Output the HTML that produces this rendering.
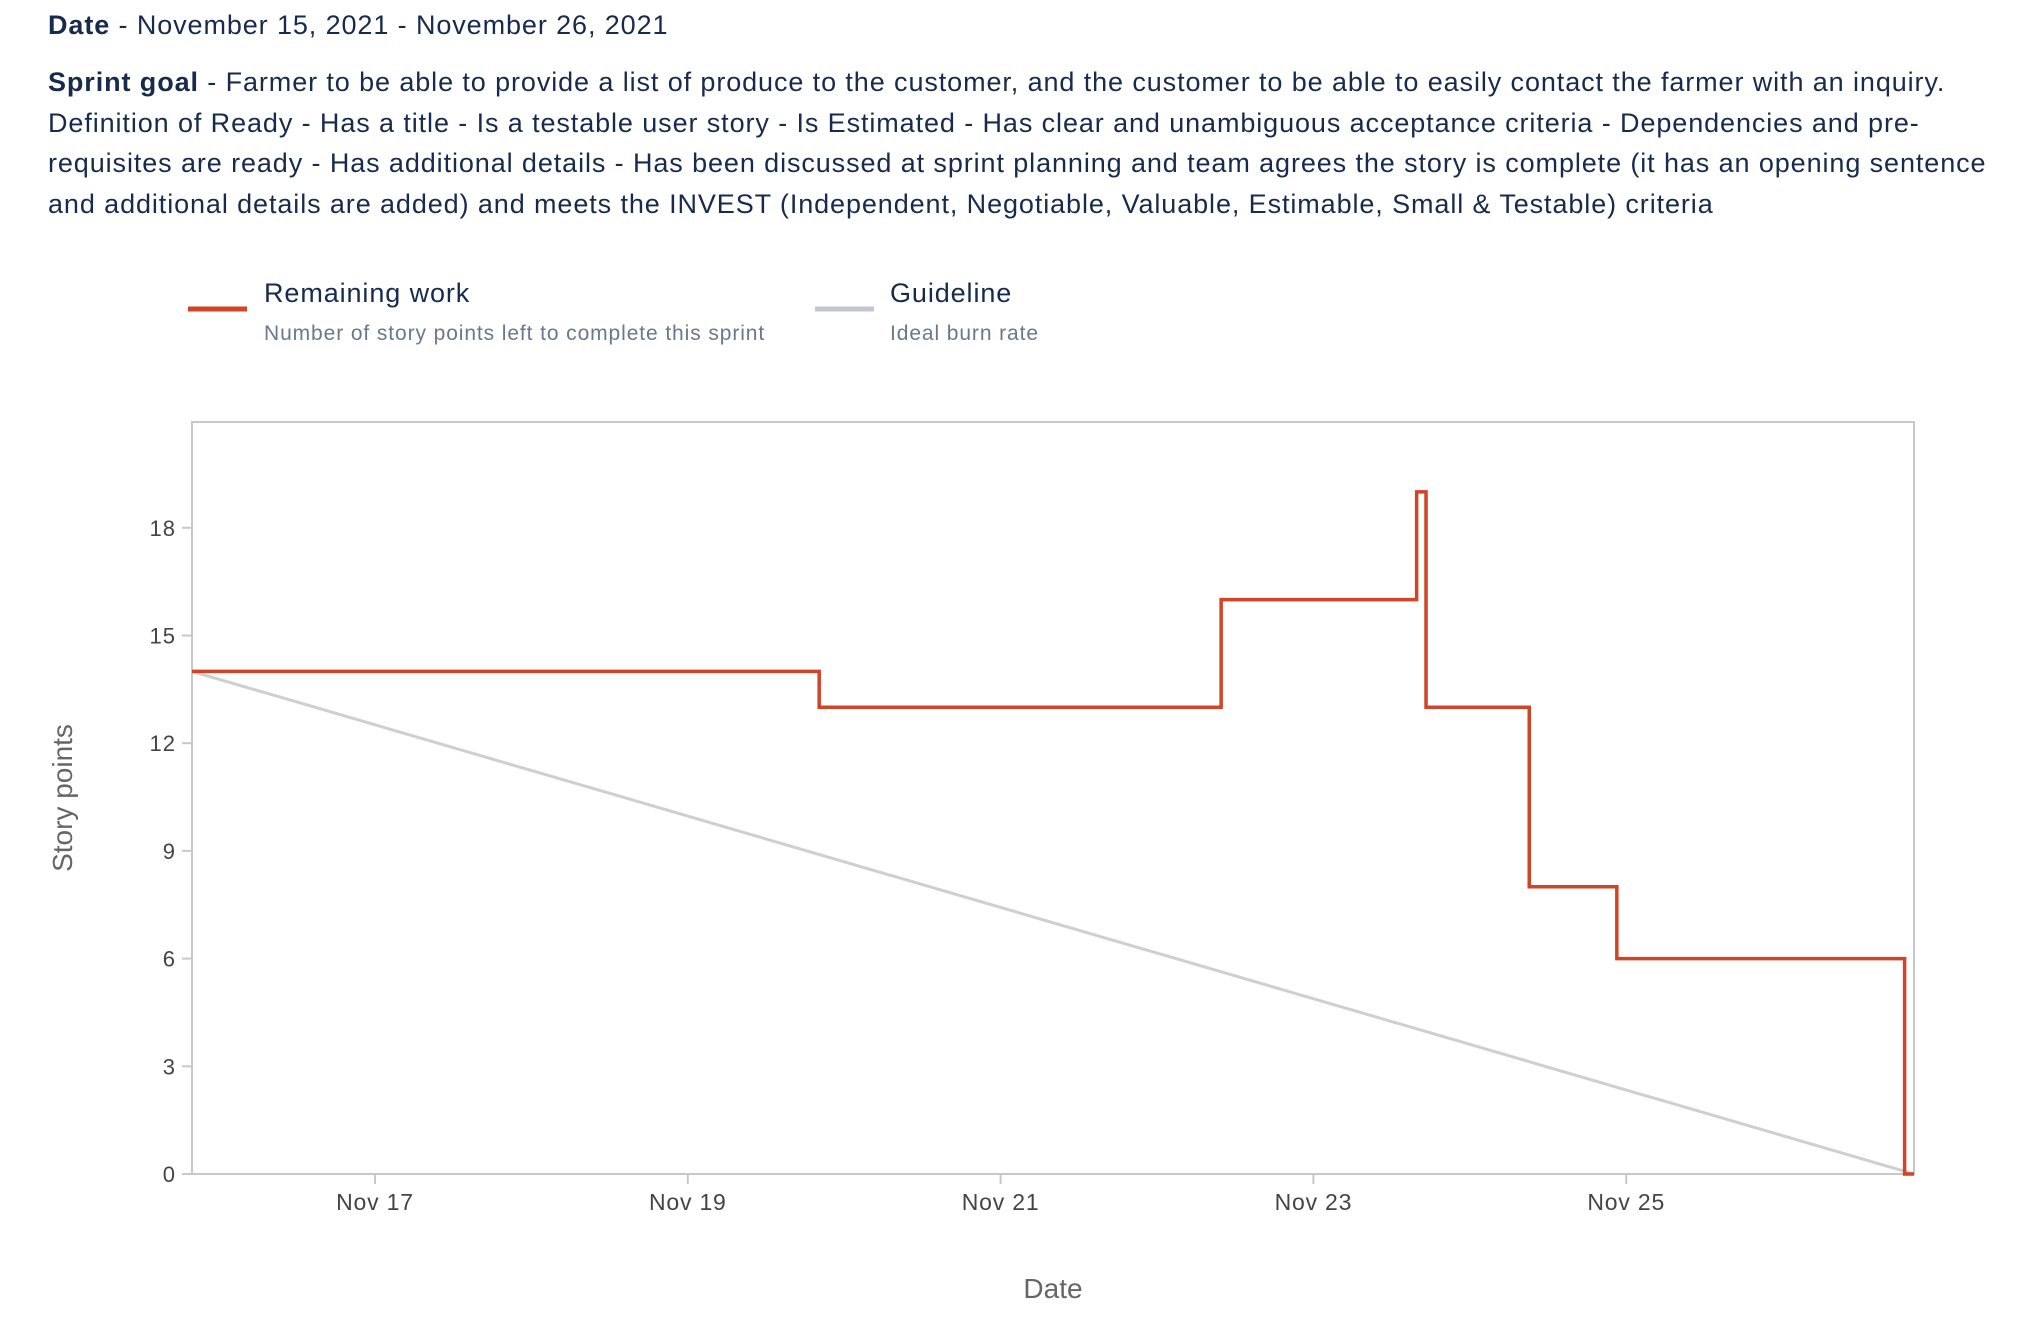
<!DOCTYPE html>
<html><head><meta charset="utf-8"><style>
body{margin:0;width:2034px;height:1324px;background:#fff;font-family:"Liberation Sans",sans-serif;color:#172b4d;position:relative;overflow:hidden}
.t{position:absolute;left:48px;white-space:nowrap;font-size:27px;letter-spacing:0.9px}
</style></head><body>
<div class="t" style="top:10px"><b>Date</b> - November 15, 2021 - November 26, 2021</div>
<div class="t" style="top:62px;line-height:40.5px"><b>Sprint goal</b> - Farmer to be able to provide a list of produce to the customer, and the customer to be able to easily contact the farmer with an inquiry.<br>Definition of Ready - Has a title - Is a testable user story - Is Estimated - Has clear and unambiguous acceptance criteria - Dependencies and pre-<br>requisites are ready - Has additional details - Has been discussed at sprint planning and team agrees the story is complete (it has an opening sentence<br>and additional details are added) and meets the INVEST (Independent, Negotiable, Valuable, Estimable, Small &amp; Testable) criteria</div>
<svg width="2034" height="1324" style="position:absolute;left:0;top:0" id="chart">
<g>
<line x1="188" y1="309" x2="247" y2="309" stroke="#d04427" stroke-width="5"/>
<text x="264" y="302" font-size="27" letter-spacing="0.9" fill="#172b4d">Remaining work</text>
<text x="264" y="340" font-size="21" letter-spacing="0.9" fill="#6b778c">Number of story points left to complete this sprint</text>
<line x1="815" y1="309" x2="874" y2="309" stroke="#c1c7d0" stroke-width="5"/>
<text x="890" y="302" font-size="27" letter-spacing="0.9" fill="#172b4d">Guideline</text>
<text x="890" y="340" font-size="21" letter-spacing="0.9" fill="#6b778c">Ideal burn rate</text>
</g>
<rect x="192" y="422" width="1722" height="752" fill="none" stroke="#c8c8c8" stroke-width="2"/>
<g id="axes"></g>
<g id="marks"></g>
<text x="72" y="798" font-size="28" fill="#666" text-anchor="middle" transform="rotate(-90 72 798)">Story points</text>
<text x="1053" y="1298" font-size="28" fill="#666" text-anchor="middle">Date</text>
</svg>
<script>
const yTicks=[0,3,6,9,12,15,18];
const xTickDays=[17,19,21,23,25];
const xTickLabels=["Nov 17","Nov 19","Nov 21","Nov 23","Nov 25"];
const stepDays=[15.83,19.84,22.41,23.66,23.72,24.38,24.94,26.78,26.84];
const stepValues=[14,13,16,19,13,8,6,0,0];
const guideDays=[15.83,26.84];
const guideValues=[14,0];
const X0=192,X1=1914,D0=15.83,D1=26.84,Y0=1174,YPU=35.9;
const sx=d=>X0+(d-D0)/(D1-D0)*(X1-X0);
const sy=v=>Y0-v*YPU;
const NS="http://www.w3.org/2000/svg";
const axes=document.getElementById('axes'),marks=document.getElementById('marks');
function mk(tag,at,parent){const e=document.createElementNS(NS,tag);for(const k in at)e.setAttribute(k,at[k]);parent.appendChild(e);return e;}
yTicks.forEach(v=>{
 const l=mk('line',{x1:X0-10,x2:X0,y1:sy(v),y2:sy(v),stroke:'#c8c8c8','stroke-width':2},axes);
 
 
 const t=mk('text',{x:X0-16,y:sy(v)+8,'font-size':22,'letter-spacing':1,fill:'#444','text-anchor':'end'},axes);
 t.textContent=v;
 
 
});
xTickDays.forEach((d,i)=>{
 const l=mk('line',{x1:sx(d),x2:sx(d),y1:Y0,y2:Y0+10,stroke:'#c8c8c8','stroke-width':2},axes);
 
 
 const t=mk('text',{x:sx(d),y:Y0+36,'font-size':23,'letter-spacing':0.8,fill:'#444','text-anchor':'middle'},axes);
 t.textContent=xTickLabels[i];
 
 
});
const g=mk('line',{x1:sx(guideDays[0]),y1:sy(guideValues[0]),x2:sx(guideDays[1]),y2:sy(guideValues[1]),stroke:'#cfcfcf','stroke-width':3},marks);


let p='M'+sx(stepDays[0])+','+sy(stepValues[0]);
for(let i=1;i<stepDays.length;i++){p+=' H'+sx(stepDays[i])+' V'+sy(stepValues[i]);}
const r=mk('path',{d:p,fill:'none',stroke:'#d04427','stroke-width':3.5},marks);


</script>
</body></html>
